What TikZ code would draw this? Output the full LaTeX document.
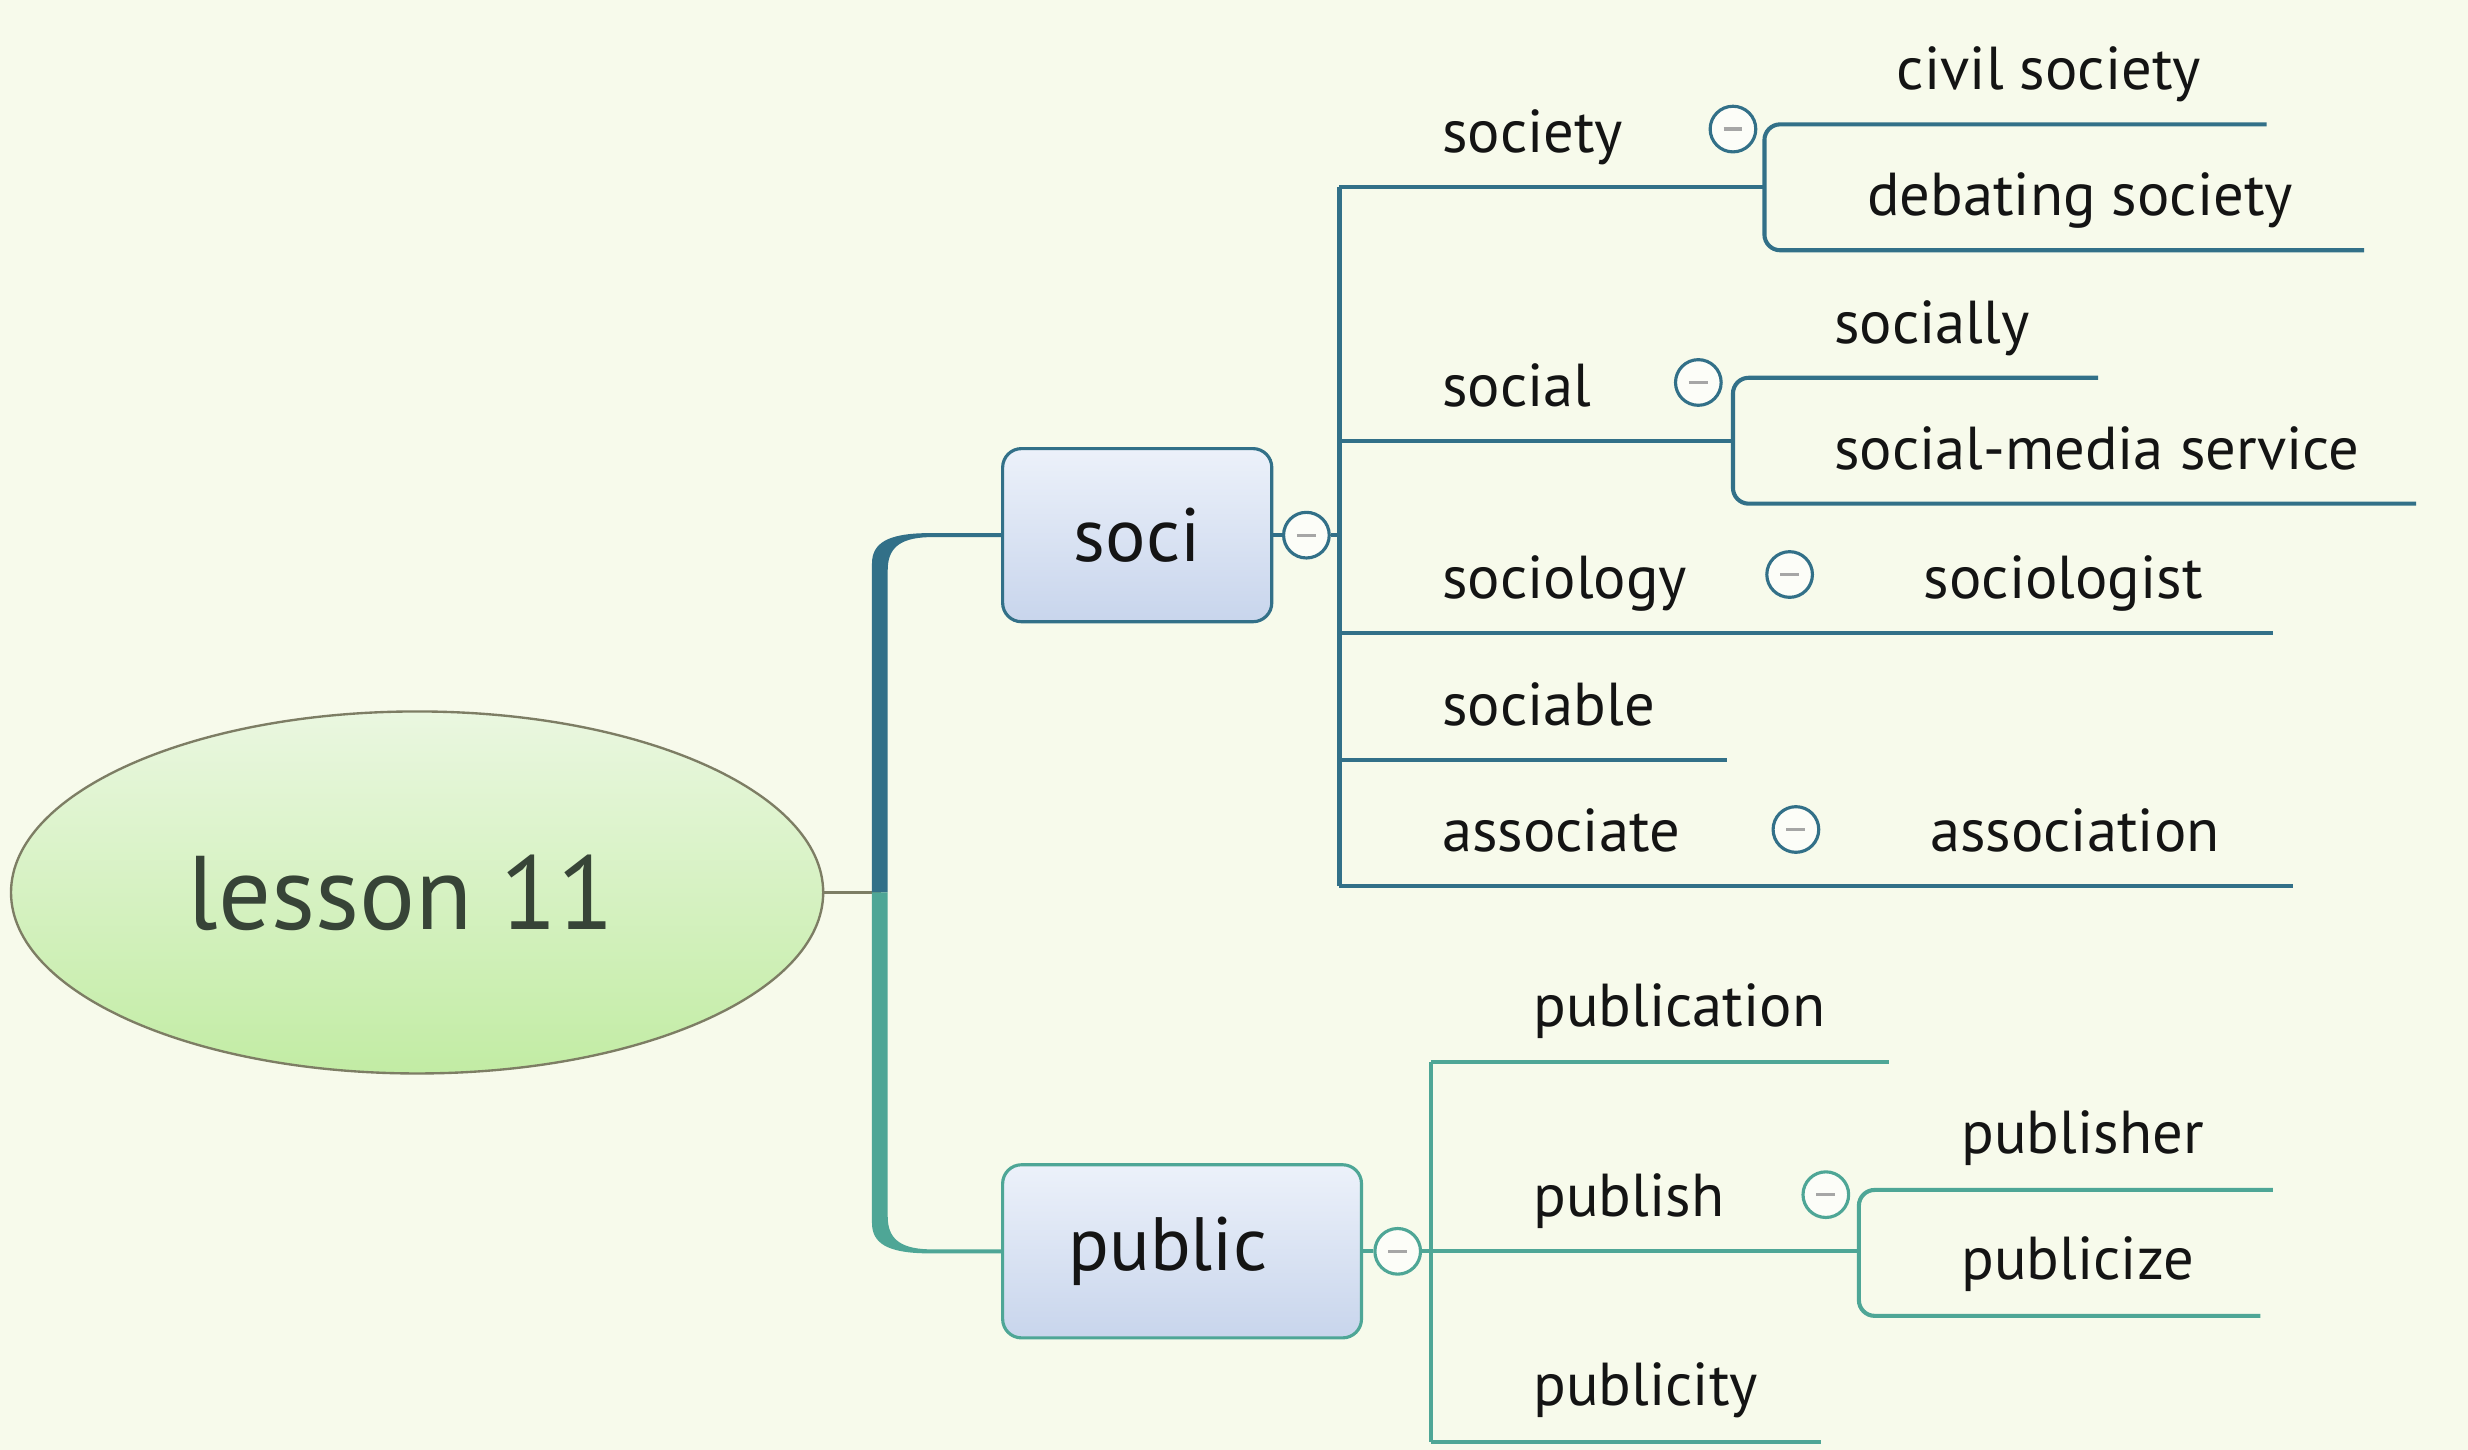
\documentclass[tikz,border=0pt]{standalone}
\usepackage{fontspec}
\setmainfont{PT Sans}
\usetikzlibrary{shapes.geometric,calc}
\definecolor{bg}{RGB}{247,250,235}
\definecolor{soc}{RGB}{50,112,136}
\definecolor{pub}{RGB}{78,166,150}
\definecolor{ellT}{RGB}{234,247,224}
\definecolor{ellB}{RGB}{194,236,164}
\definecolor{ellD}{RGB}{125,125,100}
\definecolor{boxT}{RGB}{236,241,250}
\definecolor{boxB}{RGB}{200,213,236}
\definecolor{roottext}{RGB}{55,68,55}
\tikzset{
  lbl/.style={anchor=base west, inner sep=0pt, font=\fontsize{38.5}{46}\selectfont, text=black!92},
  topicbox/.style={draw=#1, line width=2pt, rounded corners=12pt, top color=boxT, bottom color=boxB,
     minimum height=110pt, inner sep=0pt, font=\fontsize{48}{56}\selectfont, text=black!92},
  collapse/.style={circle, draw=#1, line width=2pt, fill=white!65!bg, minimum size=29pt, inner sep=0pt,
     path picture={\draw[gray!70, line width=2pt] ([xshift=-6pt]path picture bounding box.center) -- ([xshift=6pt]path picture bounding box.center);}},
  sline/.style={draw=soc, line width=2.6pt},
  pline/.style={draw=pub, line width=2.6pt},
}
\begin{document}
\begin{tikzpicture}[x=1pt,y=-1pt]
\fill[bg] (0,0) rectangle (1568,921);
\useasboundingbox (0,0) rectangle (1568,921);

% root
\node[ellipse, draw=ellD, line width=1.5pt, top color=ellT, bottom color=ellB,
      minimum width=516pt, minimum height=230pt, inner sep=0pt] (root) at (265,567) {};
\node[font=\fontsize{66.5}{74}\selectfont, text=roottext, inner sep=0pt] (roottxt) at (255,567) {lesson 11};

% main topics
\node[topicbox=soc, minimum width=171pt] (soci) at (722.5,340) {soci};
\node[topicbox=pub, minimum width=228pt] (public) at (751,795) {};
\node[font=\fontsize{48}{56}\selectfont, text=black!92, inner sep=0pt] (publictxt) at (742,795) {public};

\coordinate (hub) at (560,567);
\draw[ellD, line width=1.5pt] (root.east) -- (hub);

% trunk to soci
\begin{scope}[shift={(soci.west)}]
\fill[soc] (-82,227) -- (-82,18) .. controls (-82,5) and (-72,-1) .. (-47,-1.3) -- (0,-1.3) -- (0,1.3) -- (-47,1.3)
  .. controls (-64,2) and (-72,8) .. (-72,22) -- (-72,227) -- cycle;
\end{scope}
% trunk to public
\begin{scope}[shift={(public.west)}]
\fill[pub] (-82,-228) -- (-82,-18) .. controls (-82,-5) and (-72,1) .. (-47,1.3) -- (0,1.3) -- (0,-1.3) -- (-47,-1.3)
  .. controls (-64,-2) and (-72,-8) .. (-72,-22) -- (-72,-228) -- cycle;
\end{scope}

% ---------- soci branch ----------
\node[collapse=soc] (cs) at (830,340) {};
\draw[sline] (soci.east) -- (cs.west);
\coordinate (sT) at (851,119);
\coordinate (sB) at (851,563);
\draw[sline] (cs.east) -- (cs.east -| sT);
\draw[sline] (sT) -- (sB);

% society
\node[lbl] (society) at (916,97) {society};
\node[collapse=soc] (c1) at (1101,82) {};
\coordinate (j1) at (1121,119);
\draw[sline] (sT) -- (j1);
\node[lbl] (civil) at (1205,57) {civil society};
\node[lbl] (debating) at (1186,137) {debating society};
\draw[sline, rounded corners=10pt] (1440,79) -- (j1 |- 0,79) -- (j1 |- 0,159) -- (1502,159);

% social
\node[lbl] (social) at (916,258) {social};
\node[collapse=soc] (c2) at (1079,243) {};
\coordinate (j2) at (1101,280);
\draw[sline] (sT |- j2) -- (j2);
\node[lbl] (socially) at (1165,218) {socially};
\node[lbl] (sms) at (1165,298) {social-media service};
\draw[sline, rounded corners=10pt] (1333,240) -- (j2 |- 0,240) -- (j2 |- 0,320) -- (1535,320);

% sociology
\node[lbl] (sociology) at (916,380) {sociology};
\node[collapse=soc] (c3) at (1137,365) {};
\node[lbl] (sociologist) at (1222,380) {sociologist};
\draw[sline] (sT |- 0,402) -- (1444,402);

% sociable
\node[lbl] (sociable) at (916,461) {sociable};
\draw[sline] (sT |- 0,483) -- (1097,483);

% associate
\node[lbl] (associate) at (916,541) {associate};
\node[collapse=soc] (c4) at (1141,527) {};
\node[lbl] (association) at (1226,541) {association};
\draw[sline] (sB) -- (1457,563);

% ---------- public branch ----------
\node[collapse=pub] (cp) at (888,795) {};
\draw[pline] (public.east) -- (cp.west);
\coordinate (pT) at (909,675);
\coordinate (pB) at (909,916);
\draw[pline] (pT) -- (pB);

\node[lbl] (publication) at (974,652) {publication};
\draw[pline] (pT) -- (1200,675);

\node[lbl] (publish) at (974,773) {publish};
\node[collapse=pub] (c5) at (1160,759) {};
\coordinate (j5) at (1181,795);
\draw[pline] (cp.east) -- (j5);
\node[lbl] (publisher) at (1246,733) {publisher};
\node[lbl] (publicize) at (1246,813) {publicize};
\draw[pline, rounded corners=10pt] (1444,756) -- (j5 |- 0,756) -- (j5 |- 0,836) -- (1436,836);

\node[lbl] (publicity) at (974,893) {publicity};
\draw[pline] (pB) -- (1157,916);
\end{tikzpicture}
\end{document}
